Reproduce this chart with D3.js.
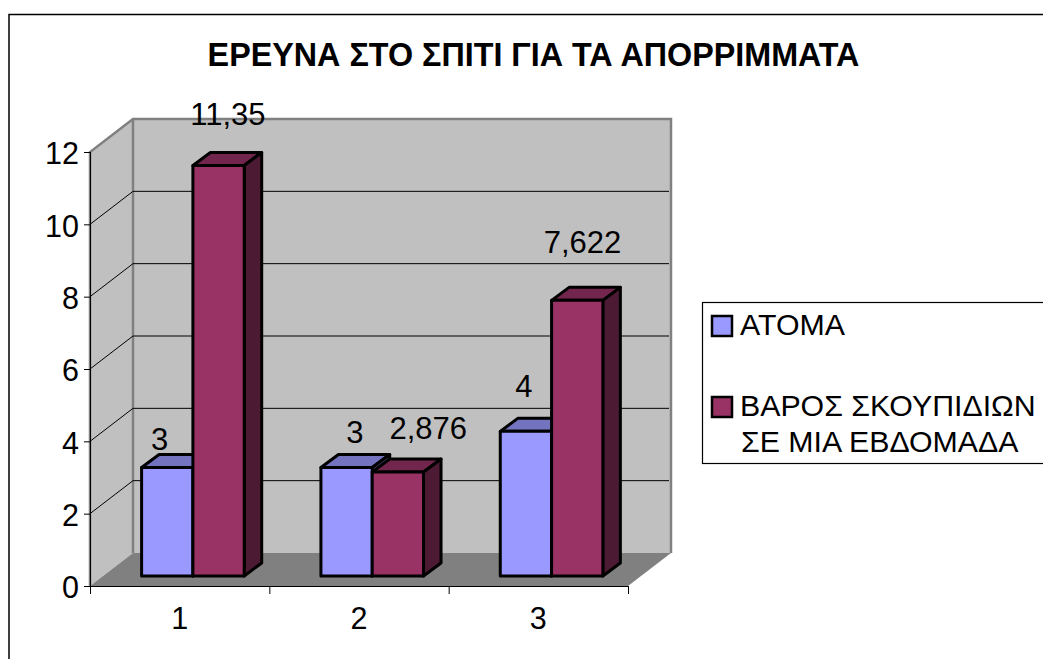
<!DOCTYPE html>
<html><head><meta charset="utf-8">
<script src="https://cdnjs.cloudflare.com/ajax/libs/d3/7.8.5/d3.min.js"></script>
<style>html,body{margin:0;padding:0;background:#fff}svg{display:block}text{font-family:"Liberation Sans",Arial,sans-serif;fill:#000}</style>
</head><body><svg id="c" width="1043" height="659"></svg>
<script>
const title = "ΕΡΕΥΝΑ ΣΤΟ ΣΠΙΤΙ ΓΙΑ ΤΑ ΑΠΟΡΡΙΜΜΑΤΑ";
const categories = ["1","2","3"];
const seriesNames = ["ΑΤΟΜΑ","ΒΑΡΟΣ ΣΚΟΥΠΙΔΙΩΝ"];
const atoma = [3,3,4];
const varos = [11.35,2.876,7.622];
const varosLabels = ["11,35","2,876","7,622"];
const yTicks = [0,2,4,6,8,10,12];

const svg = d3.select("#c");
const x = d3.scaleBand().domain(categories).range([90,628]);
const y = d3.scaleLinear().domain([0,12]).range([586,152]);
const dx=43, dy=-33, bdx=17.5, bdy=-13, frontOff=-10, barW=51.3, barPad=51.6;
const pts = a=>a.map(p=>p.join(",")).join(" ");

svg.append("rect").attr("x",9).attr("y",14.5).attr("width",1100).attr("height",700).attr("fill","#fff").attr("stroke","#000").attr("stroke-width",1.5);
svg.append("text").attr("x",533.5).attr("y",66).attr("text-anchor","middle").attr("font-weight","bold").attr("font-size",32.3).text(title);

const x0=x.range()[0], x1=x.range()[1], y0=y(0), yT=y(12);
svg.append("polygon").attr("points",pts([[x0,y0],[x0+dx,y0+dy],[x0+dx,yT+dy],[x0,yT]])).attr("fill","#c0c0c0");
svg.append("rect").attr("x",x0+dx).attr("y",yT+dy).attr("width",x1-x0).attr("height",y0-yT).attr("fill","#c0c0c0");
svg.append("polygon").attr("points",pts([[x0,y0],[x1,y0],[x1+dx,y0+dy],[x0+dx,y0+dy]])).attr("fill","#808080");
svg.append("polyline").attr("points",pts([[x0,y0],[x0,yT],[x0+dx,yT+dy],[x1+dx,yT+dy],[x1+dx,y0+dy]])).attr("fill","none").attr("stroke","#808080").attr("stroke-width",2.5);
svg.append("line").attr("x1",x0+dx).attr("x2",x0+dx).attr("y1",yT+dy).attr("y2",y0+dy).attr("stroke","#808080").attr("stroke-width",2.5);
yTicks.filter(t=>t>0&&t<12).forEach(t=>{
  svg.append("polyline").attr("points",pts([[x0,y(t)],[x0+dx,y(t)+dy],[x1+dx-2,y(t)+dy]])).attr("fill","none").attr("stroke","#000").attr("stroke-width",1);
});
const yAxis = d3.axisLeft(y).tickValues(yTicks).tickSize(6).tickFormat(d3.format("d"));
const gy = svg.append("g").attr("transform",`translate(${x0},0)`).call(yAxis);
gy.select(".domain").attr("stroke","#000").attr("stroke-width",1).attr("d",`M0.5,${yT}V${y0}`);
gy.selectAll("text").attr("font-size",30.5).attr("x",-11).attr("dy","0.39em");
const xAxis = d3.axisBottom(x).tickSize(0);
const gx = svg.append("g").attr("transform",`translate(0,${y0})`).call(xAxis);
gx.attr("font-family",null); gy.attr("font-family",null);
gx.select(".domain").attr("stroke","#000").attr("stroke-width",1).attr("d",`M${x0},0.5H${x1}`);
gx.selectAll("text").attr("font-size",30.5).attr("y",21).attr("dy","0.71em");
categories.concat(["end"]).forEach((c,i)=>{
  const px = x0 + i*x.bandwidth();
  svg.append("line").attr("x1",px+.5).attr("x2",px+.5).attr("y1",y0).attr("y2",y0+8).attr("stroke","#000");
});

function bar(cx, v, fc, top, side){
  const t=y(v)+frontOff, b=y0+frontOff, g=svg.append("g").attr("stroke","#000").attr("stroke-width",3).attr("stroke-linejoin","round");
  g.append("polygon").attr("points",pts([[cx,t],[cx+bdx,t+bdy],[cx+barW+bdx,t+bdy],[cx+barW,t]])).attr("fill",top);
  g.append("polygon").attr("points",pts([[cx+barW,t],[cx+barW+bdx,t+bdy],[cx+barW+bdx,b+bdy],[cx+barW,b]])).attr("fill",side);
  g.append("rect").attr("x",cx).attr("y",t).attr("width",barW).attr("height",b-t).attr("fill",fc);
}
categories.forEach((c,i)=>{
  const bx=x(c)+barPad;
  bar(bx,atoma[i],"#9999ff","#7373bf","#4d4d80");
  bar(bx+barW,varos[i],"#993366","#73264d","#4d1a33");
});
const atomaLabelShift=[[18,-18],[34,-24.5],[23.5,-34.5]];
const varosLabelShift=[[35,-40.5],[56,-33],[31,-47]];
categories.forEach((c,i)=>{
  const bx=x(c)+barPad;
  svg.append("text").attr("x",bx+atomaLabelShift[i][0]).attr("y",y(atoma[i])+frontOff+atomaLabelShift[i][1]).attr("text-anchor","middle").attr("font-size",31).text(atoma[i]);
  svg.append("text").attr("x",bx+barW+varosLabelShift[i][0]).attr("y",y(varos[i])+frontOff+varosLabelShift[i][1]).attr("text-anchor","middle").attr("font-size",31).text(varosLabels[i]);
});
svg.append("rect").attr("x",702.5).attr("y",302.5).attr("width",400).attr("height",161).attr("fill","#fff").attr("stroke","#000").attr("stroke-width",1.2);
const swatch=(yy,f)=>svg.append("rect").attr("x",712).attr("y",yy).attr("width",20).attr("height",20).attr("fill",f).attr("stroke","#000").attr("stroke-width",2.5);
swatch(316,"#9999ff"); swatch(397,"#993366");
[[seriesNames[0],740,335],[seriesNames[1],740,416],["ΣΕ ΜΙΑ ΕΒΔΟΜΑΔΑ",741,452]].forEach(d=>{
  svg.append("text").attr("x",d[1]).attr("y",d[2]).attr("font-size",30.3).text(d[0]);
});
</script></body></html>
